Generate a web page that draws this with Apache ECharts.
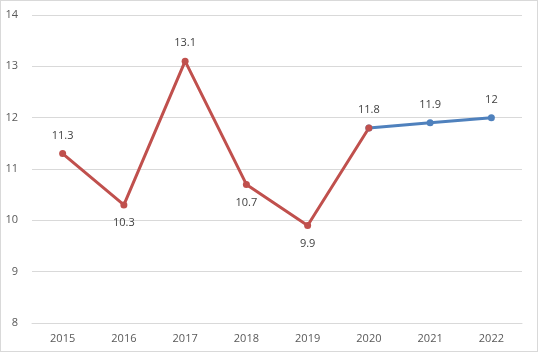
<!DOCTYPE html>
<html>
<head>
<meta charset="utf-8">
<script src="https://cdn.jsdelivr.net/npm/echarts@6/dist/echarts.min.js"></script>
<style>
  html, body { margin: 0; padding: 0; background: #fff; }
  #chart { width: 538px; height: 352px; box-sizing: border-box; border: 1px solid #d9d9d9; }
</style>
</head>
<body>
<div id="chart"></div>
<script>
var years = ["2015", "2016", "2017", "2018", "2019", "2020", "2021", "2022"];
var actual = [11.3, 10.3, 13.1, 10.7, 9.9, 11.8, '-', '-'];
var forecast = ['-', '-', '-', '-', '-', 11.8, 11.9, 12];
var yTicks = [8, 9, 10, 11, 12, 13, 14];

// where each label sits relative to its point
var actualLabelPos = ['top', 'bottom', 'top', 'bottom', 'bottom', 'top'];

var chart = echarts.init(document.getElementById('chart'));

var labelStyle = {
    show: true,
    color: '#404040',
    fontSize: 11,
    fontFamily: 'Open Sans',
    distance: 9
};

var actualData = actual.map(function(v, i) {
    if (v === '-') return v;
    return { value: v, label: Object.assign({}, labelStyle, { position: actualLabelPos[i] }) };
});

var forecastData = forecast.map(function(v, i) {
    if (v === '-') return v;
    // 2020 is already labelled by the red series
    var show = actual[i] === '-';
    return { value: v, label: Object.assign({}, labelStyle, { show: show, position: 'top' }) };
});

var option = {
    animation: false,
    grid: { left: 31, right: 15, top: 14, bottom: 28 },
    xAxis: {
        type: 'category',
        data: years,
        boundaryGap: true,
        axisLine: { show: true, lineStyle: { color: '#d9d9d9' } },
        axisTick: { show: false },
        axisLabel: { color: '#595959', fontSize: 11, fontFamily: 'Open Sans', margin: 10 }
    },
    yAxis: {
        type: 'value',
        min: yTicks[0],
        max: yTicks[yTicks.length - 1],
        interval: 1,
        axisLine: { show: false },
        axisTick: { show: false },
        axisLabel: { color: '#595959', fontSize: 11, fontFamily: 'Open Sans', margin: 14 },
        splitLine: { lineStyle: { color: '#d9d9d9' } }
    },
    series: [
        {
            name: 'forecast',
            type: 'line',
            data: forecastData,
            symbol: 'circle',
            symbolSize: 7,
            lineStyle: { color: '#4f81bd', width: 3 },
            itemStyle: { color: '#4f81bd' }
        },
        {
            name: 'actual',
            type: 'line',
            data: actualData,
            symbol: 'circle',
            symbolSize: 7,
            lineStyle: { color: '#c0504d', width: 3 },
            itemStyle: { color: '#c0504d' }
        }
    ]
};

chart.setOption(option);
</script>
</body>
</html>
